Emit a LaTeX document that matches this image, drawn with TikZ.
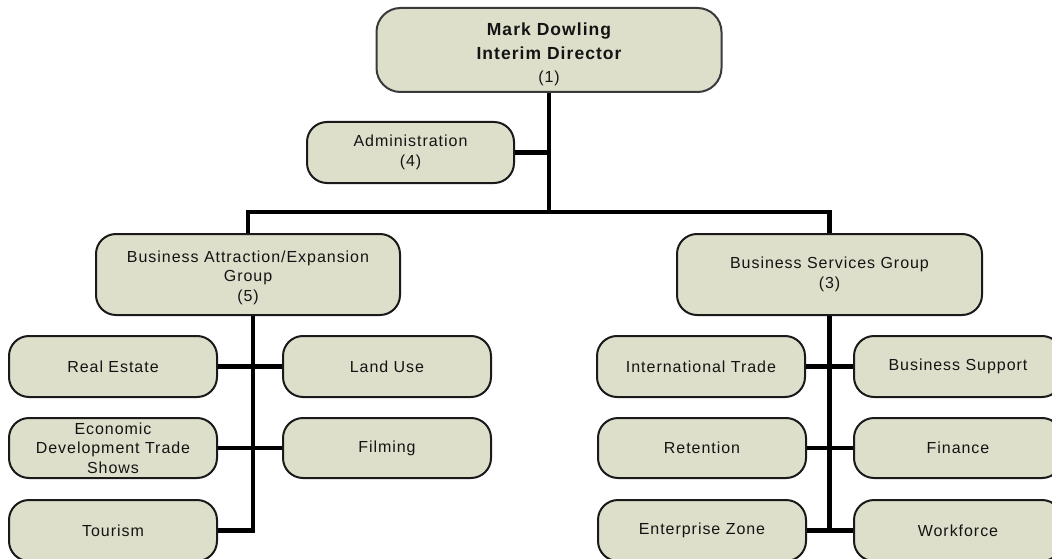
\documentclass[tikz,border=0pt]{standalone}
\usepackage{fontspec}
\setmainfont{Liberation Sans}[LetterSpace=6]
\definecolor{boxfill}{HTML}{DDDFCA}
\definecolor{boxline}{HTML}{1A1A1A}
\definecolor{topline}{HTML}{3A3A3A}
\definecolor{textcol}{HTML}{141414}
\newcommand{\hdrtext}[1]{{\fontsize{17.5}{23.5}\selectfont\bfseries #1}}
\newcommand{\topstrut}[1]{\rule{0pt}{#1}}
\tikzset{
  orgbox/.style={draw=boxline, fill=boxfill, line width=2pt, rounded corners=20pt,
    minimum width=208pt, minimum height=61pt, inner sep=0pt, align=center,
    font=\fontsize{16}{19.5}\selectfont, text=textcol},
  conn/.style={line width=4.5pt, draw=black},
}
\begin{document}
\begin{tikzpicture}[x=1pt,y=-1pt]
\clip (0,0) rectangle (1052,559);
\fill[white] (0,0) rectangle (1052,559);
% nodes
\node[orgbox, draw=topline, minimum width=345pt, minimum height=84pt, rounded corners=24pt,
  font=\fontsize{16}{23.5}\selectfont] (top) at (549,50)
  {\topstrut{22pt}\hdrtext{Mark Dowling}\\\hdrtext{Interim Director}\\(1)};
\node[orgbox, minimum width=207pt] (admin) at (410.5,152.5) {Administration\\(4)};
\node[orgbox, minimum width=304pt, minimum height=81pt] (attr) at (248,274.5)
  {\topstrut{18pt}Business Attraction/Expansion\\Group\\(5)};
\node[orgbox, minimum width=305pt, minimum height=81pt] (serv) at (829.5,274.5)
  {Business Services Group\\(3)};
% left group
\node[orgbox] (re) at (113,366.5) {Real Estate};
\node[orgbox] (lu) at (387,366.5) {Land Use};
\node[orgbox, minimum height=60pt] (edt) at (113,448) {Economic\\Development Trade\\Shows};
\node[orgbox, minimum height=60pt] (film) at (387,448) {Filming};
\node[orgbox] (tour) at (113,530.5) {Tourism};
% right group
\node[orgbox] (it) at (701,366.5) {International Trade};
\node[orgbox] (bs) at (958,366.5) {Business Support};
\node[orgbox, minimum height=60pt] (ret) at (702,448) {Retention};
\node[orgbox, minimum height=60pt] (fin) at (958,448) {Finance};
\node[orgbox] (ez) at (702,530.5) {Enterprise Zone};
\node[orgbox] (wf) at (958,530.5) {Workforce};
% connectors
\coordinate (bus) at (549,212);
\draw[conn] (top.south) -- (bus);
\draw[conn] (admin.east) -- (admin.east -| bus);
\draw[conn] (attr.north) |- (bus) -| (serv.north);
\draw[conn] ([xshift=5pt]attr.south) |- (tour.east);
\draw[conn] (re.east) -- (lu.west);
\draw[conn] (edt.east) -- (film.west);
\draw[conn] (serv.south) |- (ez.east);
\draw[conn] (it.east) -- (bs.west);
\draw[conn] (ret.east) -- (fin.west);
\draw[conn] (ez.east) -- (wf.west);
\end{tikzpicture}
\end{document}
